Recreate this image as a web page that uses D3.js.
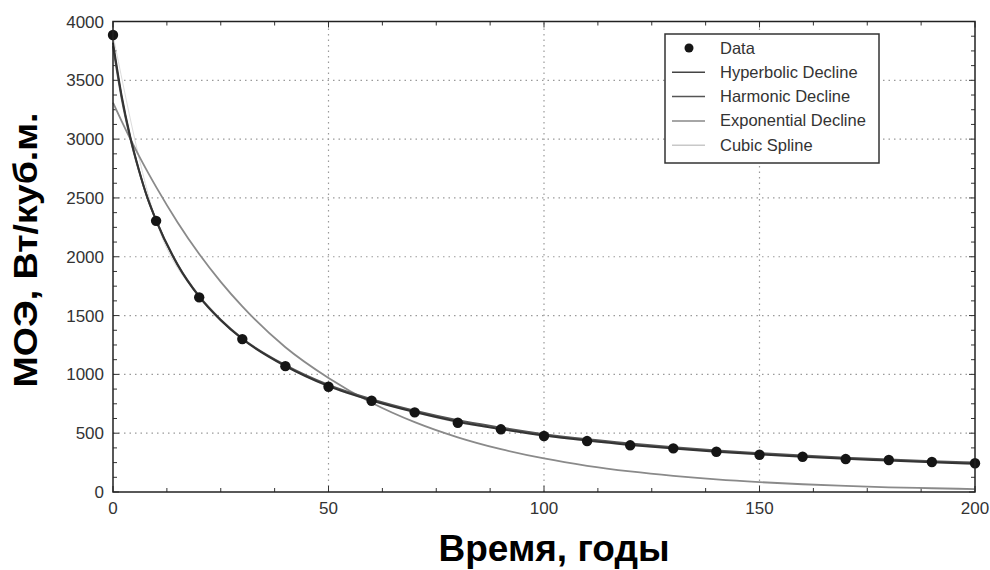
<!DOCTYPE html>
<html>
<head>
<meta charset="utf-8">
<script src="https://cdn.jsdelivr.net/npm/d3@7"></script>
<style>
  body { margin: 0; background: #fff; }
  svg { display: block; font-family: "Liberation Sans", Arial, sans-serif; }
</style>
</head>
<body>
<svg id="chart" width="990" height="570"></svg>
<script>
// data
const years = [0, 10, 20, 30, 40, 50, 60, 70, 80, 90, 100, 110, 120, 130, 140, 150, 160, 170, 180, 190, 200];
const dataVals = [3885, 2305, 1655, 1300, 1070, 895, 776, 677, 589, 533, 476, 433, 397, 371, 342, 317, 300, 280, 272, 255, 244];

// fitted curves
const curveT = [0, 2, 4, 6, 8, 10, 15, 20, 25, 30, 40, 50, 60, 70, 80, 90, 100, 110, 120, 130, 140, 150, 160, 170, 180, 190, 200];
const hyperbolic = [3820, 3370, 3020, 2740, 2500, 2310, 1930, 1660, 1460, 1300, 1070, 900, 778, 680, 598, 535, 480, 437, 400, 370, 343, 320, 300, 282, 267, 252, 240];
const harmonic = [3790, 3350, 3010, 2735, 2500, 2310, 1935, 1665, 1465, 1305, 1078, 910, 788, 690, 610, 548, 492, 448, 412, 380, 353, 330, 310, 292, 276, 262, 250];
const exponential = [3310, 3153, 3003, 2860, 2724, 2594, 2292, 2023, 1787, 1578, 1231, 970, 759, 594, 465, 364, 285, 223, 175, 137, 107, 84, 66, 52, 40, 32, 25];

const xTicks = [0, 50, 100, 150, 200];
const yTicks = [0, 500, 1000, 1500, 2000, 2500, 3000, 3500, 4000];
const legendNames = ["Data", "Hyperbolic Decline", "Harmonic Decline", "Exponential Decline", "Cubic Spline"];

const svg = d3.select("#chart");
const m = { left: 113, right: 15, top: 21.5, bottom: 78 };
const W = 990, H = 570;

const x = d3.scaleLinear().domain([0, 200]).range([m.left, W - m.right]);
const y = d3.scaleLinear().domain([0, 4000]).range([H - m.bottom, m.top]);

// grid
const grid = svg.append("g").attr("stroke", "#9a9a9a").attr("stroke-width", 1.2).attr("stroke-dasharray", "1.5,4");
grid.selectAll(".gx").data(xTicks.slice(1, -1)).enter().append("line")
  .attr("x1", d => x(d)).attr("x2", d => x(d)).attr("y1", y(0)).attr("y2", y(4000));
grid.selectAll(".gy").data(yTicks.slice(1, -1)).enter().append("line")
  .attr("x1", x(0)).attr("x2", x(200)).attr("y1", d => y(d)).attr("y2", d => y(d));

// inner ticks (major + minor) on all four sides
const xMinor = d3.range(0, 200.1, 12.5);
const yMinor = d3.range(0, 4000.1, 125);
const tk = svg.append("g").attr("stroke", "#333").attr("stroke-width", 1);
tk.selectAll(".tb").data(xMinor).enter().append("line")
  .attr("x1", d => x(d)).attr("x2", d => x(d)).attr("y1", y(0)).attr("y2", d => y(0) - (d % 50 === 0 ? 6 : 4));
tk.selectAll(".tt").data(xMinor).enter().append("line")
  .attr("x1", d => x(d)).attr("x2", d => x(d)).attr("y1", y(4000)).attr("y2", d => y(4000) + (d % 50 === 0 ? 6 : 4));
tk.selectAll(".tl").data(yMinor).enter().append("line")
  .attr("y1", d => y(d)).attr("y2", d => y(d)).attr("x1", x(0)).attr("x2", d => x(0) + (d % 500 === 0 ? 6 : 4));
tk.selectAll(".tr").data(yMinor).enter().append("line")
  .attr("y1", d => y(d)).attr("y2", d => y(d)).attr("x1", x(200)).attr("x2", d => x(200) - (d % 500 === 0 ? 6 : 4));

// tick labels
svg.append("g").selectAll("text").data(xTicks).enter().append("text")
  .attr("x", d => x(d)).attr("y", y(0) + 22).attr("text-anchor", "middle")
  .attr("font-size", 17).attr("fill", "#333").text(d => d);
svg.append("g").selectAll("text").data(yTicks).enter().append("text")
  .attr("x", x(0) - 9).attr("y", d => y(d) + 6).attr("text-anchor", "end")
  .attr("font-size", 17).attr("fill", "#333").text(d => d);

// curves
const line = (ts, vs) => d3.line().x((d, i) => x(ts[i])).y(d => y(d)).curve(d3.curveMonotoneX)(vs);
const plot = svg.append("g").attr("fill", "none");
plot.append("path").attr("d", line(years, dataVals)).attr("stroke", "#dcdcdc").attr("stroke-width", 1);
plot.append("path").attr("d", line(curveT, exponential)).attr("stroke", "#8a8a8a").attr("stroke-width", 1.8);
plot.append("path").attr("d", line(curveT, harmonic)).attr("stroke", "#555").attr("stroke-width", 2);
plot.append("path").attr("d", line(curveT, hyperbolic)).attr("stroke", "#333").attr("stroke-width", 2);

// data points
svg.append("g").selectAll("circle").data(dataVals).enter().append("circle")
  .attr("cx", (d, i) => x(years[i])).attr("cy", d => y(d)).attr("r", 5.2).attr("fill", "#151515");

// frame
svg.append("rect").attr("x", x(0)).attr("y", y(4000)).attr("width", x(200) - x(0)).attr("height", y(0) - y(4000))
  .attr("fill", "none").attr("stroke", "#222").attr("stroke-width", 1.5);

// legend
const lg = svg.append("g").attr("transform", "translate(665,34)");
lg.append("rect").attr("width", 214).attr("height", 129).attr("fill", "#fff").attr("stroke", "#333").attr("stroke-width", 1.5);
const legStroke = [null, "#444", "#555", "#888", "#c8c8c8"];
legendNames.forEach((name, i) => {
  const cy = 14 + i * 24.3;
  if (i === 0) {
    lg.append("circle").attr("cx", 24).attr("cy", cy).attr("r", 4.5).attr("fill", "#151515");
  } else {
    lg.append("line").attr("x1", 7).attr("x2", 40).attr("y1", cy).attr("y2", cy)
      .attr("stroke", legStroke[i]).attr("stroke-width", 1.5);
  }
  lg.append("text").attr("x", 55).attr("y", cy + 5.5).attr("font-size", 16.5).attr("fill", "#333").text(name);
});

// axis titles
svg.append("text").attr("x", 554).attr("y", 561).attr("text-anchor", "middle")
  .attr("font-size", 37).attr("font-weight", "bold").attr("fill", "#000").text("Время, годы");
svg.append("text").attr("transform", "translate(37,250) rotate(-90)").attr("text-anchor", "middle")
  .attr("font-size", 33).attr("font-weight", "bold").attr("fill", "#000")
  .attr("textLength", 275).attr("lengthAdjust", "spacingAndGlyphs").text("МОЭ, Вт/куб.м.");
</script>
</body>
</html>
